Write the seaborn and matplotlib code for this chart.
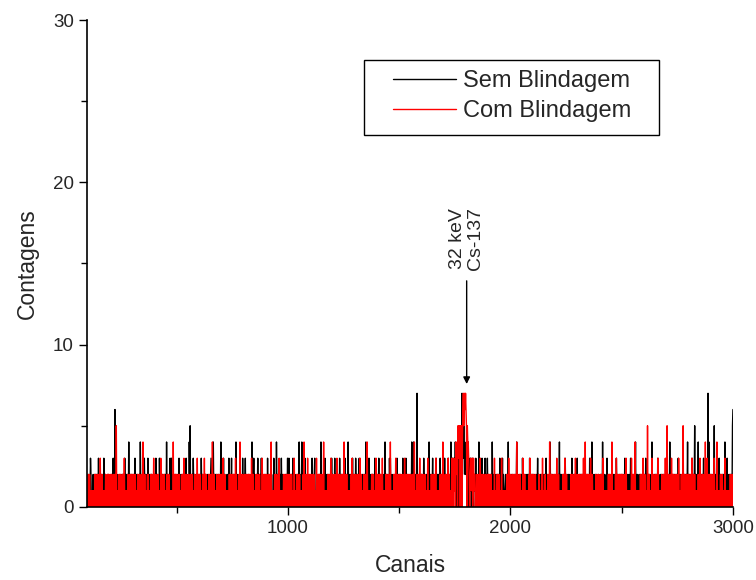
import numpy as np
import pandas as pd
import matplotlib.pyplot as plt
import seaborn as sns
from matplotlib.patches import Rectangle

# counts, one digit per 2 channels, each row = 100 channels
sem_blindagem = [
    "0121013201 1020120212 0201310120 1201203021 2010122101",
    "1021201302 0612012010 1210201220 1013102021 2040120212",
    "0120213012 1021012041 0120210312 0211030120 1202210101",
    "2013010211 0312010220 1021120401 2011030231 0210112021",
    "1020130210 2102101201 1302011041 5020120310 2102012021",
    "0211031020 1201220102 1021012301 1041020212 0120211014",
    "2011030121 0102120310 2013011202 1204012010 2121011030",
    "1201302110 2021010214 0213021012 0130210211 3012010210",
    "2110301201 1202011031 2010412102 0212031021 1010202113",
    "0130210212 0310211020 1201140102 1401202031 0210211201",
    "1021301102 3011021012 0211402101 2013021021 2010210131",
    "2101130210 1201203110 2012011230 1021041012 0212030121",
    "1031021201 3020112021 1020140211 0130210212 2011031020",
    "0211301202 1102012041 1202011031 3101201121 0210130212",
    "1202011031 2011030121 0121021041 2041201201 7011202102",
    "2011031201 1202101402 1201130210 1013020212 1031102012",
    "0131021101 3020114031 3021314023 3102320131 0724353423",
    "3403140213 1302131021 1130210114 0312013102 1103102031",
    "2011202104 1120121021 0211203102 1130210112 0201140212",
    "1021021120 2011402102 1120210311 0201121021 1203011202",
    "0210211021 1302011202 1021120210 3110201204 1120201102",
    "1120210211 4021021120 2103110211 2020112031 1021201102",
    "3011021202 1201120210 1202011031 2014021021 1202101120",
    "1021120401 2021101302 1102012021 1202011031 2011202102",
    "0211021302 1120210211 3021011202 1401202110 2102112020",
    "1120312011 2021102140 2110202112 0312011202 1021201211",
    "3020112041 0211202102 1120210311 2020112021 0211202140",
    "1202112031 0211502102 1140211202 1021302110 2021704112",
    "0211202150 2110202113 0212011202 1140211302 1021202115",
    "6",
]
com_blindagem = [
    "2020201010 1010102020 1020201030 2020101010 2010202020",
    "1020201020 2020501010 2010201020 2030101010 2010202020",
    "2020102010 1020202010 2010401020 1010202010 1020201030",
    "2020102020 1010302010 2020101020 2020101010 1040202020",
    "2010202010 1020203010 2020102010 2020201010 2010203020",
    "2020101020 1030202010 1020202010 4020201010 2010202020",
    "2020301020 1010101020 2020102020 1030201010 2040102020",
    "1020202010 2020201030 2020101020 2020102010 1030202010",
    "2020102020 1040101010 2020201020 3010101010 2020102020",
    "2010202020 1010301010 2020102010 1010204010 2010301020",
    "2020102020 1010301020 2020102010 4010101010 2020103020",
    "2010202020 3020202010 2020104010 2020101010 1020301020",
    "2020102020 1030201010 2010201040 1010101020 2020101030",
    "2010202020 1030101010 2020102010 4010101020 2030102010",
    "2020102020 1030102020 2010202010 2020401010 2010203010",
    "2020201020 1010301010 1020201020 2030101010 1020202040",
    "2010202010 3020101030 2032130423 4053545054 5046756767",
    "6505443202 2312301312 2010202020 1030102020 2010201020",
    "2020102010 1010301010 2020201010 3010101010 1020203010",
    "2010202010 2020402010 2020101030 2020101010 1020301020",
    "2020102010 1010201010 2030101020 1010201040 2020102020",
    "1020301020 1010101020 2030102010 1010102020 2010203010",
    "2010202010 2020301040 1020202020 3020201010 1020102020",
    "1020201030 1010101010 2020201040 1010102030 1020102020",
    "2020102020 3010101010 1030202010 4010101010 1020201030",
    "2020101050 2020101030 1020102020 1030101010 2010201030",
    "1050202010 2030202010 2010201030 1010201050 2020102020",
    "2010202030 2020201010 1020103020 1020201040 1030202020",
    "2020102030 1010401010 1020202010 1030101010 1010201020",
    "1",
]
series_names = ["Sem Blindagem", "Com Blindagem"]
first_channel, last_channel = 100, 3000


def to_counts(rows):
    return np.array([int(c) for c in "".join("".join(rows).split())])


frames = []
for name, rows in zip(series_names, [sem_blindagem, com_blindagem]):
    counts = to_counts(rows)
    channels = np.linspace(first_channel, last_channel, len(counts))
    frames.append(pd.DataFrame({"Canais": channels, "Contagens": counts, "serie": name}))
df = pd.concat(frames, ignore_index=True)

sns.set_style("ticks")
plt.rcParams["font.family"] = ["Liberation Sans", "DejaVu Sans"]
plt.rcParams["xtick.direction"] = "out"
plt.rcParams["ytick.direction"] = "out"

fig = plt.figure(figsize=(7.56, 5.8), dpi=100)
ax = fig.add_axes([0.115, 0.126, 0.8545, 0.8395])

sns.lineplot(
    data=df,
    x="Canais",
    y="Contagens",
    hue="serie",
    palette={"Sem Blindagem": "black", "Com Blindagem": "red"},
    estimator=None,
    sort=False,
    linewidth=1.0,
    ax=ax,
)

ax.set_xlim(96, 3000)
ax.set_ylim(0, 30)
ax.set_xticks([1000, 2000, 3000])
ax.set_xticks([500, 1500, 2500], minor=True)
ax.set_yticks([0, 10, 20, 30])
ax.set_yticks([5, 15, 25], minor=True)
ax.tick_params(which="major", length=6, width=1, labelsize=13.5, color="black")
ax.tick_params(which="minor", length=4, width=1, color="black")
for side in ["top", "right"]:
    ax.spines[side].set_visible(False)
for side in ["left", "bottom"]:
    ax.spines[side].set_linewidth(1.2)
    ax.spines[side].set_color("black")

ax.set_xlabel("Canais", fontsize=16.5, labelpad=12)
ax.set_ylabel("Contagens", fontsize=16.5, labelpad=10)

ax.annotate(
    "",
    xy=(1803, 7.4),
    xytext=(1803, 14.1),
    arrowprops=dict(arrowstyle="-|>", color="black", lw=1, mutation_scale=10),
)
ax.text(1803, 14.6, "32 keV\nCs-137", rotation=90, ha="center", va="bottom",
        fontsize=14, linespacing=1.1)

# legend frame drawn separately so the inner padding can be wider than tall
ax.add_patch(Rectangle((0.429, 0.764), 0.456, 0.154, transform=ax.transAxes,
                       fill=False, edgecolor="black", linewidth=1, zorder=5))
leg = ax.legend(
    loc="center left",
    bbox_to_anchor=(0.474, 0.844),
    borderaxespad=0,
    borderpad=0,
    fontsize=17,
    frameon=False,
    handlelength=2.65,
    handletextpad=0.3,
    labelspacing=0.35,
    title=None,
)
for line in leg.get_lines():
    line.set_linewidth(1)

fig.savefig("out.png", dpi=100)
